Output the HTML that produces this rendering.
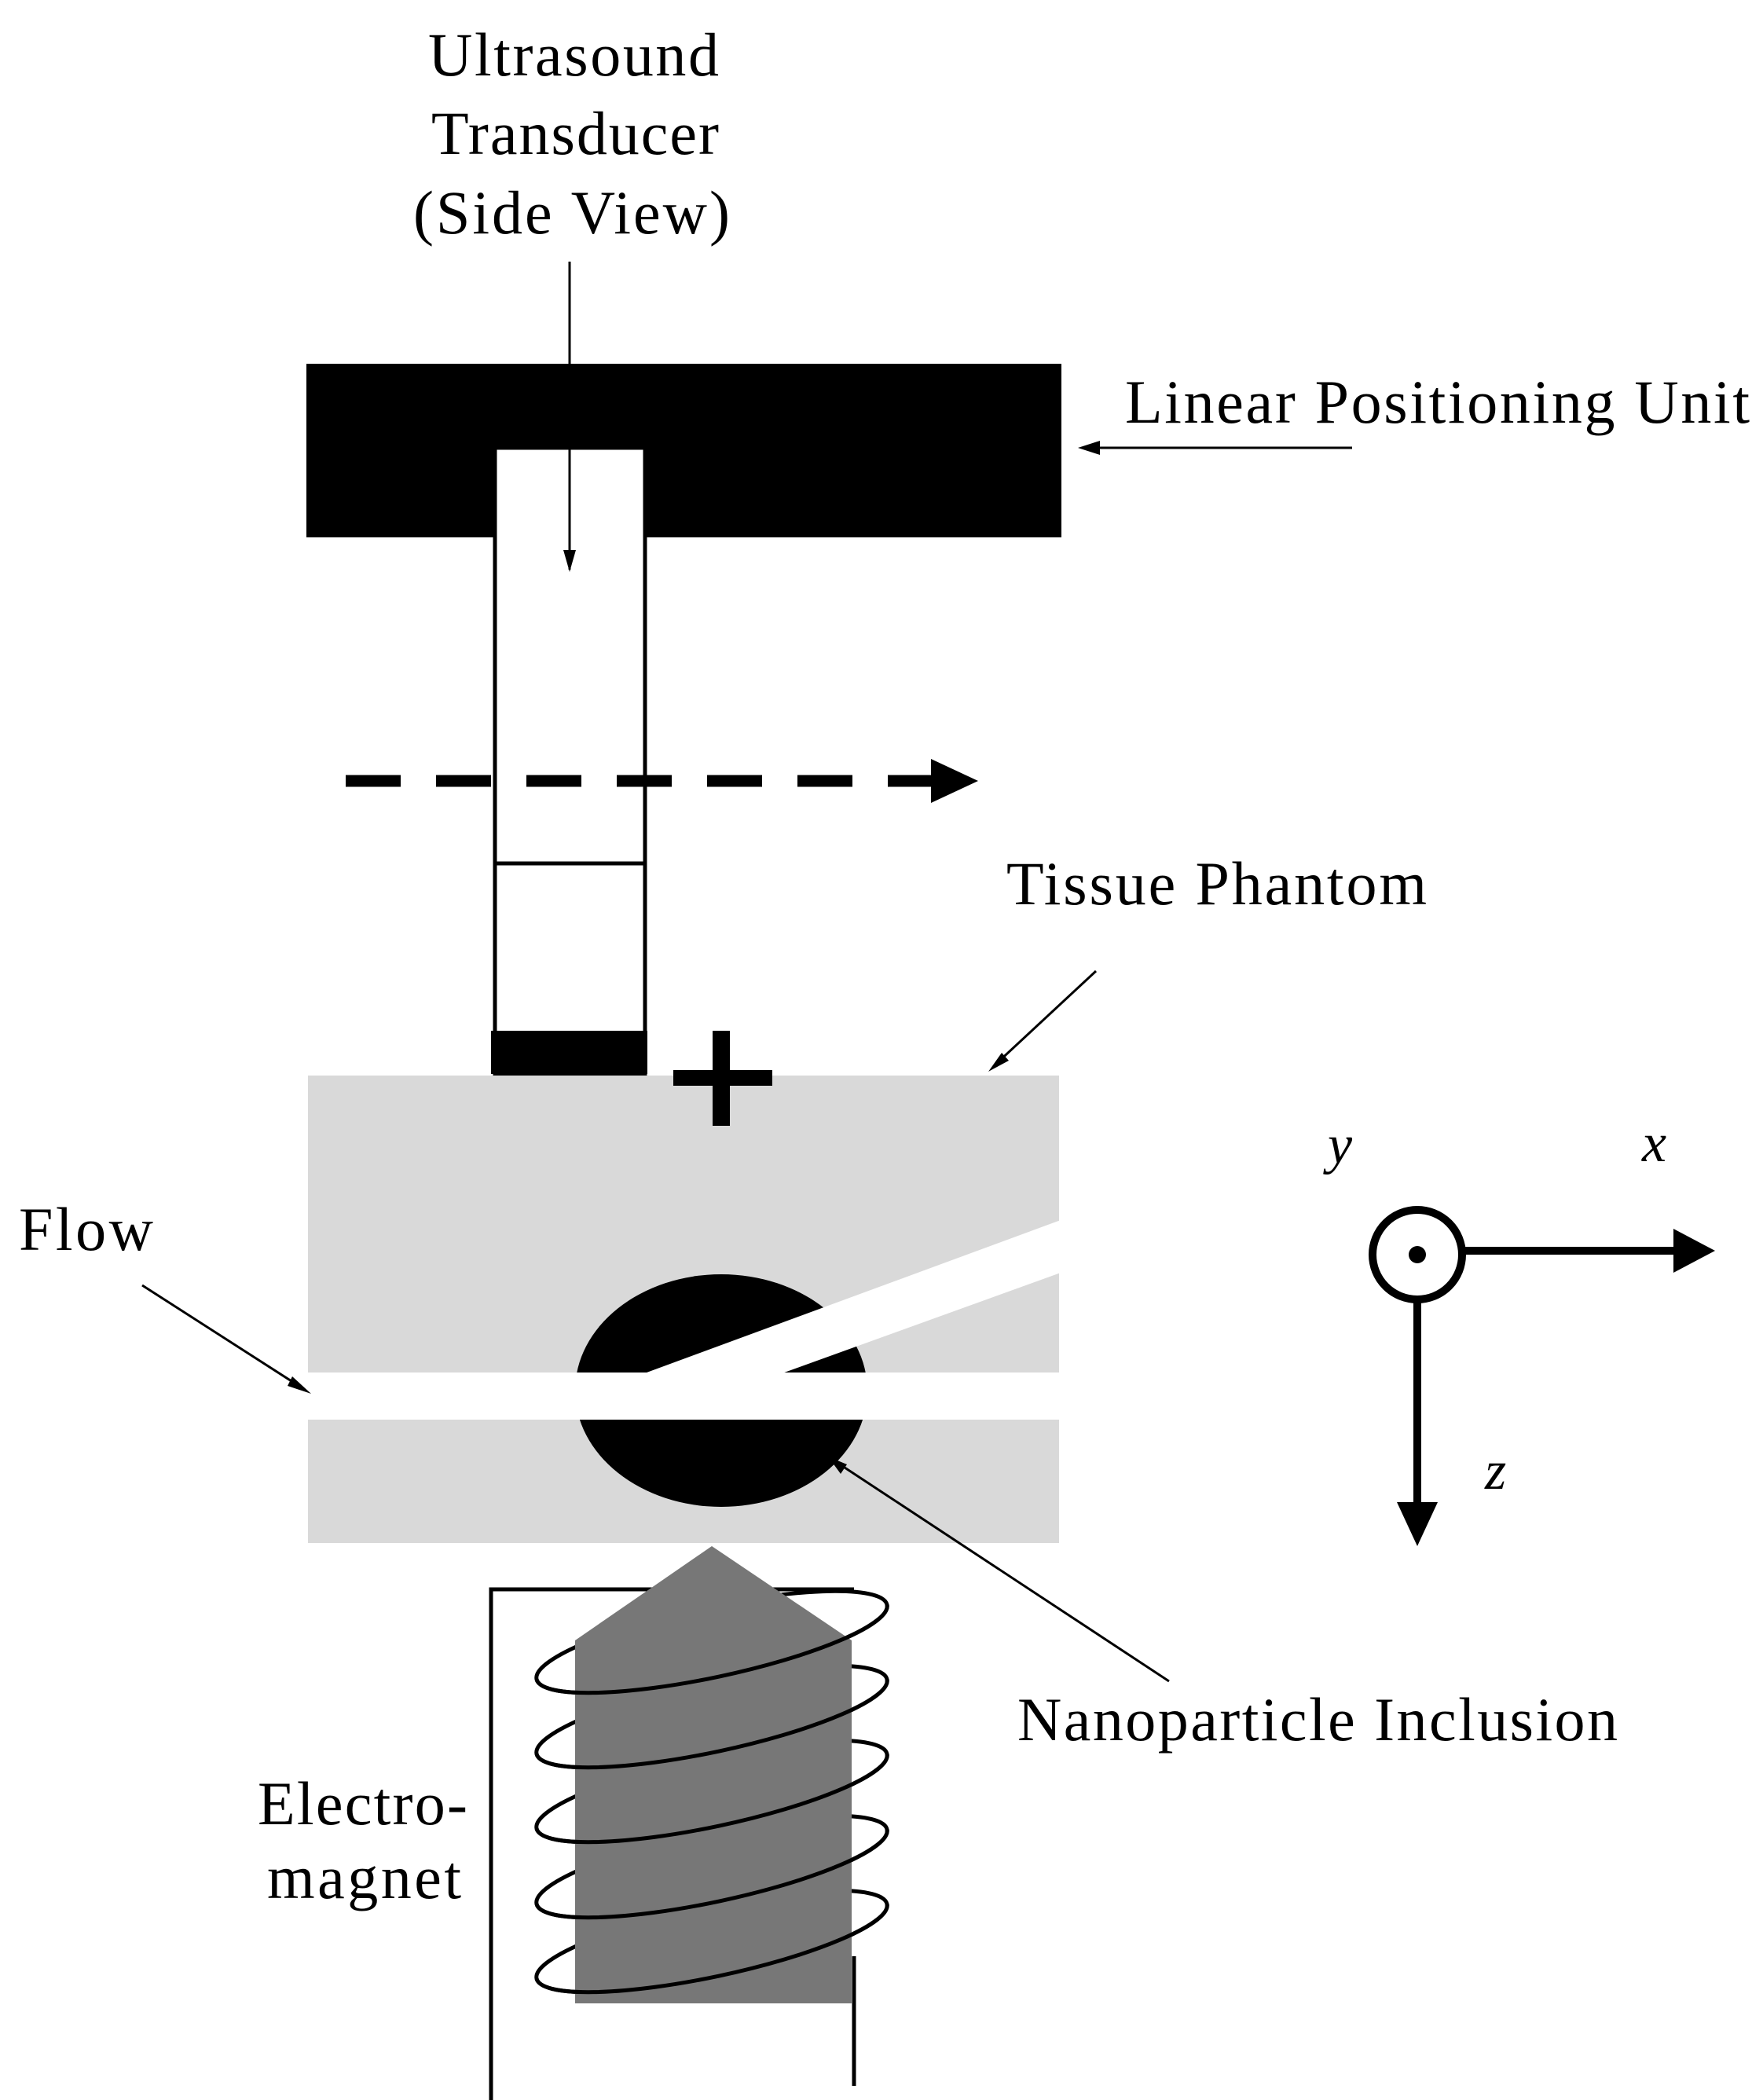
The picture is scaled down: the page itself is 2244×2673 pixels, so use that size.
<!DOCTYPE html>
<html><head><meta charset="utf-8"><style>html,body{margin:0;padding:0;background:#fff}svg{display:block}</style></head>
<body>
<svg width="2244" height="2673" viewBox="0 0 2244 2673" xmlns="http://www.w3.org/2000/svg" font-family="Liberation Serif, serif" font-size="78">
<defs>
<marker id="ah" markerWidth="10" markerHeight="8" refX="9" refY="4" orient="auto" markerUnits="userSpaceOnUse" viewBox="0 0 10 8"><path d="M0,0 L10,4 L0,8 z" fill="#000"/></marker>
</defs>
<rect width="2244" height="2673" fill="#fff"/>
<!-- texts -->
<text x="545" y="96" textLength="370">Ultrasound</text>
<text x="549" y="196" textLength="366">Transducer</text>
<text x="526" y="297" textLength="403">(Side View)</text>
<text x="1432" y="538" textLength="795">Linear Positioning Unit</text>
<text x="1281" y="1151" textLength="535">Tissue Phantom</text>
<text x="24" y="1591" textLength="171">Flow</text>
<text x="1295" y="2215" textLength="764">Nanoparticle Inclusion</text>
<text x="328" y="2322" textLength="267">Electro-</text>
<text x="340" y="2416" textLength="247">magnet</text>
<text x="1690" y="1480" font-style="italic" font-size="70">y</text>
<text x="2090" y="1478" font-style="italic" font-size="70">x</text>
<text x="1890" y="1895" font-style="italic" font-size="70">z</text>

<!-- positioning unit -->
<rect x="390" y="463" width="961" height="221" fill="#000"/>
<!-- transducer -->
<rect x="630" y="570" width="191" height="797" fill="#fff" stroke="#000" stroke-width="5"/>
<line x1="630" y1="1099" x2="821" y2="1099" stroke="#000" stroke-width="5"/>
<rect x="625" y="1312" width="199" height="55" fill="#000"/>
<!-- transducer label arrow -->
<line x1="725" y1="333" x2="725" y2="725" stroke="#000" stroke-width="3"/>
<path d="M717,700 L725,728 L733,700 z" fill="#000"/>
<!-- LPU arrow -->
<line x1="1721" y1="570" x2="1385" y2="570" stroke="#000" stroke-width="3"/>
<path d="M1400,561 L1372,570 L1400,579 z" fill="#000"/>
<!-- dashed arrow -->
<line x1="440" y1="994" x2="1195" y2="994" stroke="#000" stroke-width="15" stroke-dasharray="70 45"/>
<path d="M1185,966 L1245,994 L1185,1022 z" fill="#000"/>
<!-- phantom -->
<rect x="392" y="1369" width="956" height="378" fill="#d9d9d9"/>
<rect x="392" y="1807" width="956" height="157" fill="#d9d9d9"/>
<ellipse cx="918" cy="1770" rx="186" ry="148" fill="#000"/>
<rect x="392" y="1747" width="956" height="60" fill="#fff"/>
<polygon points="815,1750 1350,1553 1350,1620 990,1750" fill="#fff"/>
<!-- plus -->
<rect x="857" y="1362" width="126" height="20" fill="#000"/>
<rect x="907" y="1312" width="22" height="121" fill="#000"/>
<!-- tissue arrow -->
<line x1="1395" y1="1236" x2="1268" y2="1354" stroke="#000" stroke-width="3"/>
<path d="M1275,1340 L1258,1364 L1284,1350 z" fill="#000"/>
<!-- flow arrow -->
<line x1="181" y1="1636" x2="385" y2="1767" stroke="#000" stroke-width="3"/>
<path d="M372,1752 L396,1774 L366,1764 z" fill="#000"/>
<!-- nanoparticle arrow -->
<line x1="1488" y1="2140" x2="1066" y2="1862" stroke="#000" stroke-width="3"/>
<path d="M1078,1864 L1054,1854 L1070,1876 z" fill="#000"/>
<!-- electromagnet wire -->
<polyline points="625,2673 625,2023 1087,2023" fill="none" stroke="#000" stroke-width="5"/>
<line x1="1087" y1="2490" x2="1087" y2="2655" stroke="#000" stroke-width="5"/>
<!-- coils back -->
<g fill="none" stroke="#000" stroke-width="5">
<ellipse cx="906" cy="2090" rx="228" ry="45" transform="rotate(-12 906 2090)"/>
<ellipse cx="906" cy="2185" rx="228" ry="45" transform="rotate(-12 906 2185)"/>
<ellipse cx="906" cy="2280" rx="228" ry="45" transform="rotate(-12 906 2280)"/>
<ellipse cx="906" cy="2376" rx="228" ry="45" transform="rotate(-12 906 2376)"/>
<ellipse cx="906" cy="2471" rx="228" ry="45" transform="rotate(-12 906 2471)"/>
</g>
<!-- core -->
<polygon points="732,2550 732,2088 906,1968 1084,2088 1084,2550" fill="#777"/>
<!-- coils front (lower halves) -->
<g fill="none" stroke="#000" stroke-width="5">
<path d="M-228,0 A228,45 0 0 0 228,0" transform="translate(906 2090) rotate(-12)"/>
<path d="M-228,0 A228,45 0 0 0 228,0" transform="translate(906 2185) rotate(-12)"/>
<path d="M-228,0 A228,45 0 0 0 228,0" transform="translate(906 2280) rotate(-12)"/>
<path d="M-228,0 A228,45 0 0 0 228,0" transform="translate(906 2376) rotate(-12)"/>
<path d="M-228,0 A228,45 0 0 0 228,0" transform="translate(906 2471) rotate(-12)"/>
</g>
<!-- axes -->
<circle cx="1804" cy="1597" r="57" fill="#fff" stroke="#000" stroke-width="10"/>
<circle cx="1804" cy="1597" r="11" fill="#000"/>
<line x1="1861" y1="1592" x2="2140" y2="1592" stroke="#000" stroke-width="10"/>
<path d="M2130,1564 L2183,1592 L2130,1620 z" fill="#000"/>
<line x1="1804" y1="1654" x2="1804" y2="1920" stroke="#000" stroke-width="10"/>
<path d="M1778,1912 L1804,1968 L1830,1912 z" fill="#000"/>
</svg>
</body></html>
